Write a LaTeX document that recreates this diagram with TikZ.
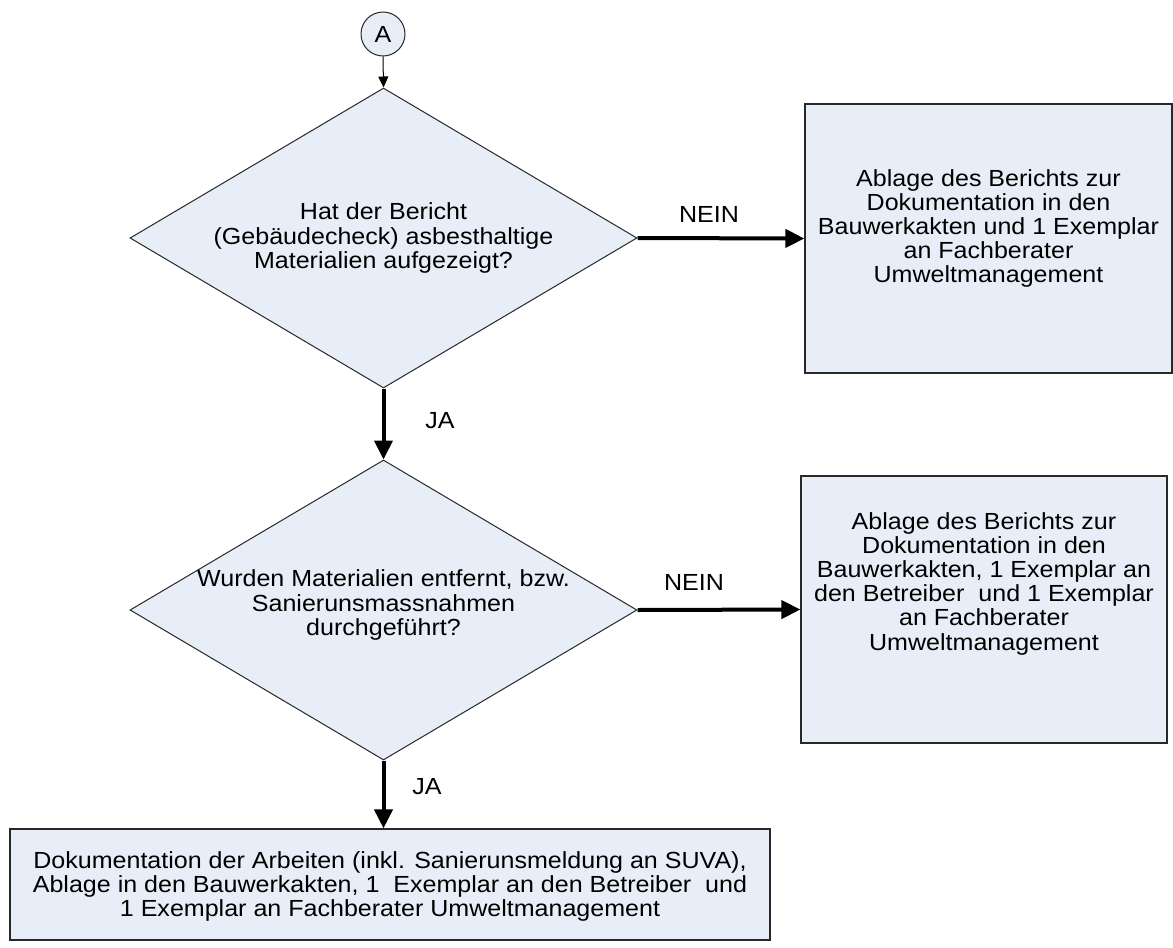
\documentclass[tikz,border=0pt]{standalone}
\usepackage{fontspec}
\setmainfont{Liberation Sans}[FakeStretch=1.075]
\usetikzlibrary{arrows.meta,shapes.geometric}
\definecolor{fillblue}{RGB}{232,238,247}
\definecolor{edgegray}{RGB}{40,40,40}
\begin{document}
\begin{tikzpicture}[x=1pt,y=-1pt,
  every node/.style={font=\fontsize{23.3}{24.2}\selectfont},
  circ/.style={circle,draw=edgegray,fill=fillblue,line width=1pt,minimum size=44pt,inner sep=0pt},
  dia/.style={diamond,draw=edgegray,fill=fillblue,line width=1pt,minimum width=507pt,minimum height=300pt,inner sep=0pt},
  boxnode/.style={rectangle,draw=edgegray,fill=fillblue,line width=1.2pt,inner sep=0pt},
  txt/.style={align=center,inner sep=0pt},
  thinarrow/.style={-{Triangle[length=11pt,width=10pt]},line width=1pt,draw=black},
  thickarrow/.style={-{Triangle[length=19pt,width=18pt]},line width=4pt,draw=black},
  lbl/.style={inner sep=0pt}
]
\useasboundingbox (0,0) rectangle (1173,948);

\node[circ] (A) at (383,34) {A};

\node[dia] (d1) at (383.5,238) {};
\node[txt] (d1t) at (383.5,238) {Hat der Bericht\\(Gebäudecheck) asbesthaltige\\Materialien aufgezeigt?};

\node[dia] (d2) at (383.5,610) {};
\node[txt] (d2t) at (383.5,605) {Wurden Materialien entfernt, bzw.\\Sanierunsmassnahmen\\durchgeführt?};

\node[boxnode,minimum width=367pt,minimum height=269pt] (b1) at (988.5,238.5) {};
\node[txt] (b1t) at (988.5,228.5) {Ablage des Berichts zur\\Dokumentation in den\\Bauwerkakten und 1 Exemplar\\an Fachberater\\Umweltmanagement};

\node[boxnode,minimum width=366pt,minimum height=267pt] (b2) at (984,609.5) {};
\node[txt] (b2t) at (984,583.5) {Ablage des Berichts zur\\Dokumentation in den\\Bauwerkakten, 1 Exemplar an\\den Betreiber~ und 1 Exemplar\\an Fachberater\\Umweltmanagement};

\node[boxnode,minimum width=760pt,minimum height=111pt] (b3) at (390,884.5) {};
\node[txt] (b3t) at (390,886.5) {Dokumentation der Arbeiten (inkl. Sanierunsmeldung an SUVA),\\Ablage in den Bauwerkakten, 1~ Exemplar an den Betreiber~ und\\1 Exemplar an Fachberater Umweltmanagement};

\draw[thinarrow] (A.south) -- (d1.north);
\draw[thickarrow] (d1.east) -- (b1.west);
\draw[thickarrow] (d1.south) -- (d2.north);
\draw[thickarrow] (d2.east) -- (b2.west);
\draw[thickarrow] (d2.south) -- (d2.south |- b3.north);

\node[lbl] (n1) at (709,214) {NEIN};
\node[lbl] (j1) at (440,421) {JA};
\node[lbl] (n2) at (694,582) {NEIN};
\node[lbl] (j2) at (427,787) {JA};
\end{tikzpicture}
\end{document}
